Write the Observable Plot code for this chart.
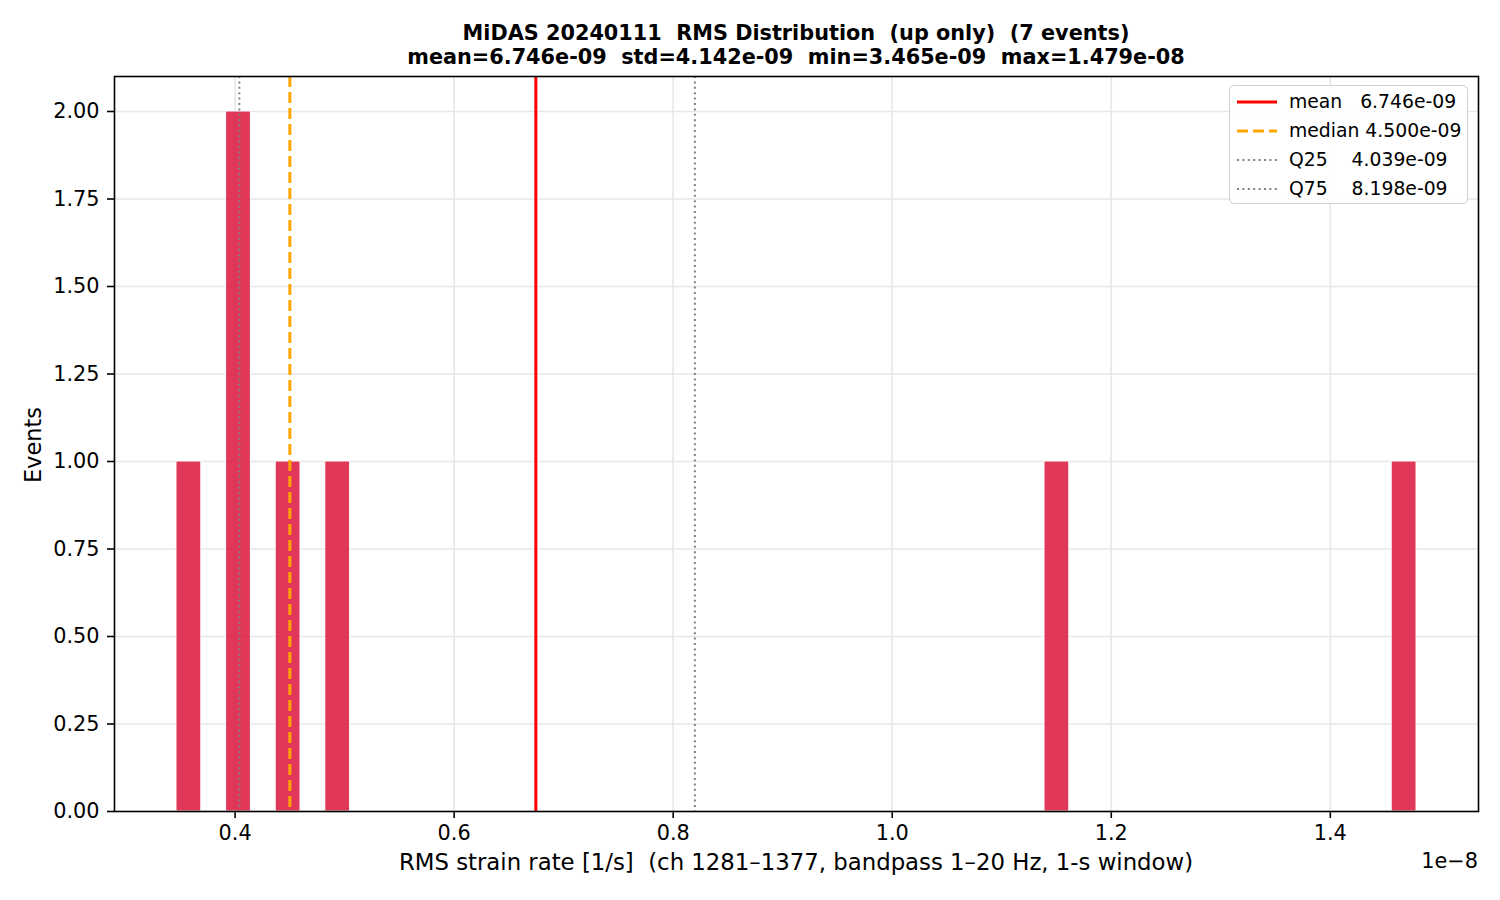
<!DOCTYPE html>
<html>
<head>
<meta charset="utf-8">
<script src="https://cdn.jsdelivr.net/npm/d3@7"></script>
<script src="https://cdn.jsdelivr.net/npm/@observablehq/plot@0.6"></script>
<style>
  html, body { margin: 0; padding: 0; background: #fff; }
  body { font-family: "DejaVu Sans", sans-serif; }
  #wrap { position: relative; width: 1500px; height: 900px; overflow: hidden; }
  #chart { position: absolute; left: 0; top: 0; }
  .t { position: absolute; white-space: pre; color: #000; }
  #title { left: 114px; width: 1364px; top: 22px; text-align: center; font-weight: bold; font-size: 20.8px; line-height: 23.5px; }
  #xlabel { left: 114px; width: 1364px; top: 849px; text-align: center; font-size: 22.8px; }
  #ylabel { left: 33px; top: 445px; font-size: 22.5px; transform: translate(-50%, -50%) rotate(-90deg); }
  #offset { right: 22px; top: 849px; font-size: 20.8px; }
  #legend { position: absolute; left: 1229px; top: 85px; width: 237px; height: 117px; border: 1.5px solid #d0d0d0; border-radius: 5px; background: rgba(255,255,255,0.85); }
  .row { position: absolute; left: 0; height: 28px; width: 236px; }
  .row svg { position: absolute; left: 7px; top: 0; }
  .row span { position: absolute; left: 59px; top: 2px; font-size: 18.8px; white-space: pre; }
  svg text { fill: #000; }
</style>
</head>
<body>
<div id="wrap">
  <div id="chart"></div>
  <div id="title" class="t"></div>
  <div id="xlabel" class="t"></div>
  <div id="ylabel" class="t"></div>
  <div id="offset" class="t"></div>
  <div id="legend"></div>
</div>
<script>
// ---- data (RMS strain rate per event, 1/s) ----
const rmsValues = [3.465e-9, 4.020e-9, 4.057e-9, 4.4998e-9, 4.975e-9, 1.1420e-8, 1.4787e-8];
const statNames = ["mean", "median", "Q25", "Q75"];
const statValues = [6.746e-9, 4.500e-9, 4.039e-9, 8.198e-9];
const statLabels = ["mean   6.746e-09", "median 4.500e-09", "Q25    4.039e-09", "Q75    8.198e-09"];
const xTicks = [0.4, 0.6, 0.8, 1.0, 1.2, 1.4];
const yTicks = [0, 0.25, 0.5, 0.75, 1.0, 1.25, 1.5, 1.75, 2.0];
const nBins = 50;
const titleLines = ["MiDAS 20240111  RMS Distribution  (up only)  (7 events)",
                    "mean=6.746e-09  std=4.142e-09  min=3.465e-09  max=1.479e-08"];
const xLabel = "RMS strain rate [1/s]  (ch 1281\u20131377, bandpass 1\u201320 Hz, 1-s window)";
const yLabel = "Events";
const offsetText = "1e\u22128";

// ---- derived ----
const scale = 1e8;
const xs = rmsValues.map(v => v * scale);
const lo = d3.min(xs), hi = d3.max(xs);
const edges = d3.range(nBins + 1).map(i => lo + (hi - lo) * i / nBins);
edges[nBins] = hi;
const bins = d3.bin().domain([lo, hi]).thresholds(edges.slice(1, -1))(xs);
const binTable = bins.map(b => ({x1: b.x0, x2: b.x1, n: b.length})).filter(b => b.n > 0);
const pad = (hi - lo) * 0.05;

const styles = {
  mean:   {stroke: "red", strokeWidth: 3},
  median: {stroke: "orange", strokeWidth: 3, strokeDasharray: "11,5"},
  Q25:    {stroke: "#808080", strokeWidth: 2, strokeDasharray: "2,3.4"},
  Q75:    {stroke: "#808080", strokeWidth: 2, strokeDasharray: "2,3.4"}
};

const chart = Plot.plot({
  width: 1500, height: 900,
  marginLeft: 114, marginRight: 22, marginTop: 76, marginBottom: 89,
  style: {fontFamily: "DejaVu Sans, sans-serif", fontSize: "20.8px", color: "#000", background: "transparent"},
  x: {domain: [lo - pad, hi + pad], ticks: xTicks, tickFormat: d3.format(".1f"), tickSize: 7, tickPadding: 7, label: null},
  y: {domain: [0, 2.1], ticks: yTicks, tickFormat: d3.format(".2f"), tickSize: 7, tickPadding: 8, label: null},
  marks: [
    Plot.ruleX(xTicks, {stroke: "#e7e7e7", strokeWidth: 1.6}),
    Plot.ruleY(yTicks, {stroke: "#e7e7e7", strokeWidth: 1.6}),
    Plot.rectY(binTable, {x1: "x1", x2: "x2", y: "n", fill: "crimson", fillOpacity: 0.85, stroke: "white", strokeWidth: 1}),
    ...statNames.map((k, i) => Plot.ruleX([statValues[i] * scale], styles[k])),
    Plot.frame({stroke: "#000", strokeWidth: 1.6})
  ]
});
document.getElementById("chart").appendChild(chart);
chart.querySelectorAll('[aria-label$="axis"] line, [aria-label$="axis"] path, [aria-label*="tick"] path, [aria-label*="tick"] line').forEach(e => {
  e.setAttribute("stroke-width", "1.6");
  e.style.strokeWidth = "1.6px";
  e.setAttribute("stroke", "#000");
});

document.getElementById("title").textContent = titleLines.join("\n");
document.getElementById("xlabel").textContent = xLabel;
document.getElementById("ylabel").textContent = yLabel;
document.getElementById("offset").textContent = offsetText;

const legend = document.getElementById("legend");
statNames.forEach((k, i) => {
  const row = document.createElement("div");
  row.className = "row";
  row.style.top = (3 + i * 29) + "px";
  const s = styles[k];
  row.innerHTML = `<svg width="44" height="28"><line x1="0" x2="40" y1="13" y2="13" stroke="${s.stroke}" stroke-width="${s.strokeWidth}" ${s.strokeDasharray ? `stroke-dasharray="${s.strokeDasharray}"` : ""}/></svg><span></span>`;
  row.querySelector("span").textContent = statLabels[i];
  legend.appendChild(row);
});
</script>
</body>
</html>
